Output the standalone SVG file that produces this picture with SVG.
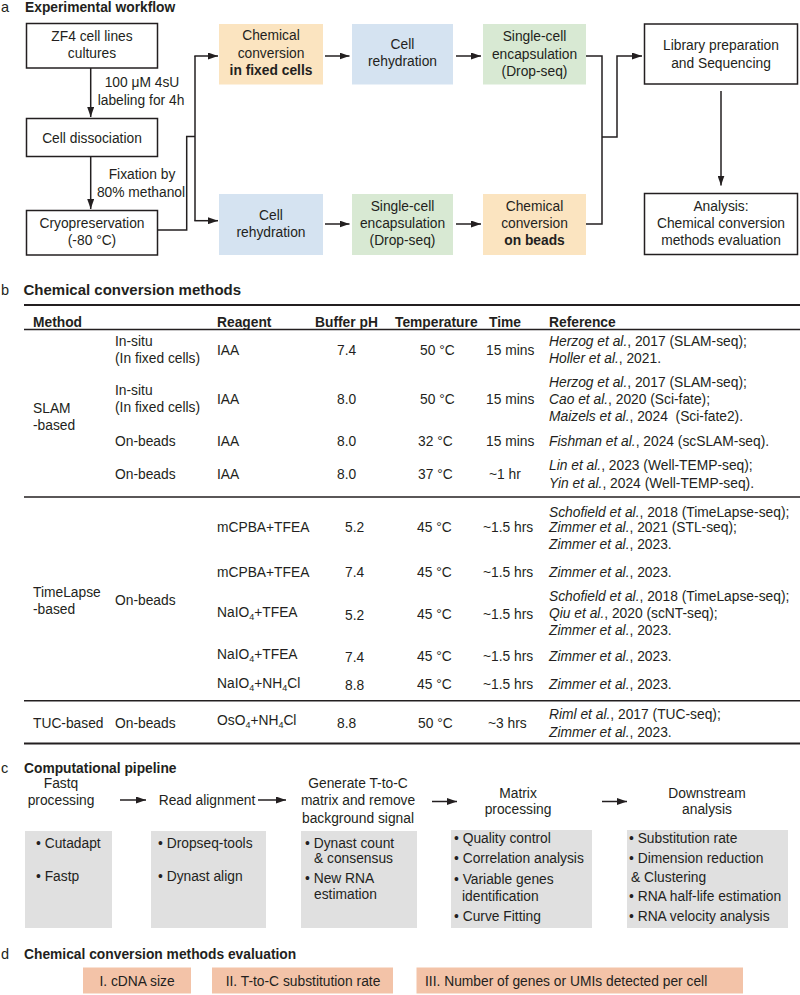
<svg xmlns="http://www.w3.org/2000/svg" width="800" height="995" viewBox="0 0 800 995">
<defs>
<style>
text{font-family:'Liberation Sans',Arial,sans-serif;font-size:13.8px;fill:#231f20}
.b{font-weight:bold}
.i{font-style:italic}
.m{text-anchor:middle}
.h{font-size:15px;font-weight:bold}
.lt{font-size:14.5px}
.box{fill:#fff;stroke:#231f20;stroke-width:1.5}
.or{fill:#fbe4c0}
.bl{fill:#d5e3f1}
.gr{fill:#d8e9d3}
.gy{fill:#e0e0e0}
.sa{fill:#f3c3a8}
.ln{stroke:#231f20;stroke-width:1.5;fill:none}
.ar{stroke:#231f20;stroke-width:1.5;fill:none;marker-end:url(#ah)}
.rule{stroke:#231f20;fill:none}
.sub{font-size:9px}
</style>
<marker id="ah" markerUnits="userSpaceOnUse" markerWidth="10" markerHeight="7" refX="10" refY="3.5" orient="auto">
<path d="M0,0 L10,3.5 L0,7 z" fill="#231f20"/>
</marker>
</defs>
<rect width="800" height="995" fill="#fff"/>

<!-- Panel a -->
<g id="panel-a-title">
<text x="1" y="12" class="lt">a</text>
<text x="25" y="12" class="b">Experimental workflow</text>
</g>
<g id="n-zf4">
<rect class="box" x="26.5" y="23.5" width="131" height="44.5"/>
<text x="92" y="41" class="m">ZF4 cell lines</text>
<text x="92" y="58" class="m">cultures</text>
</g>
<g id="n-dissociation">
<rect class="box" x="26.5" y="118.5" width="131" height="38"/>
<text x="92" y="143" class="m">Cell dissociation</text>
</g>
<g id="n-cryo">
<rect class="box" x="26.5" y="210.5" width="131" height="44.5"/>
<text x="92" y="228" class="m">Cryopreservation</text>
<text x="92" y="245" class="m">(-80 °C)</text>
</g>
<g id="lbl-labeling">
<text x="142" y="87" class="m">100 μM 4sU</text>
<text x="141" y="104.5" class="m">labeling for 4h</text>
</g>
<g id="lbl-fixation">
<text x="142" y="179" class="m">Fixation by</text>
<text x="141" y="197" class="m">80% methanol</text>
</g>
<g id="n-conv-fixed">
<rect class="or" x="219" y="24" width="104" height="60.5"/>
<text x="271" y="40" class="m">Chemical</text>
<text x="271" y="58" class="m">conversion</text>
<text x="271" y="75" class="m b">in fixed cells</text>
</g>
<g id="n-rehyd-1">
<rect class="bl" x="352" y="24" width="101" height="60.5"/>
<text x="402.5" y="48.5" class="m">Cell</text>
<text x="402.5" y="66" class="m">rehydration</text>
</g>
<g id="n-encap-1">
<rect class="gr" x="483" y="24" width="103" height="60.5"/>
<text x="534.5" y="41" class="m">Single-cell</text>
<text x="534.5" y="58.5" class="m">encapsulation</text>
<text x="534.5" y="75.5" class="m">(Drop-seq)</text>
</g>
<g id="n-rehyd-2">
<rect class="bl" x="219" y="194" width="104" height="61"/>
<text x="271" y="220" class="m">Cell</text>
<text x="271" y="237" class="m">rehydration</text>
</g>
<g id="n-encap-2">
<rect class="gr" x="352" y="194" width="101" height="61"/>
<text x="402.5" y="211" class="m">Single-cell</text>
<text x="402.5" y="228" class="m">encapsulation</text>
<text x="402.5" y="245" class="m">(Drop-seq)</text>
</g>
<g id="n-conv-beads">
<rect class="or" x="483" y="194" width="103" height="61"/>
<text x="534.5" y="211" class="m">Chemical</text>
<text x="534.5" y="228" class="m">conversion</text>
<text x="534.5" y="245" class="m b">on beads</text>
</g>
<g id="n-library">
<rect class="box" x="644.5" y="24" width="153" height="60"/>
<text x="721" y="50" class="m">Library preparation</text>
<text x="721" y="67.5" class="m">and Sequencing</text>
</g>
<g id="n-analysis">
<rect class="box" x="644.5" y="193.5" width="153" height="61"/>
<text x="721" y="211" class="m">Analysis:</text>
<text x="721" y="228" class="m">Chemical conversion</text>
<text x="721" y="245" class="m">methods evaluation</text>
</g>

<g id="connectors-a">
<path class="ar" d="M90.7,68 V117"/>
<path class="ar" d="M90.7,157 V209"/>
<path class="ln" d="M157.5,230 H186.7 V136.5 H195"/>
<path class="ln" d="M195,56 V220.7"/>
<path class="ar" d="M194.3,56 H218"/>
<path class="ar" d="M194.3,220.7 H218"/>
<path class="ar" d="M325,56 H349.5"/>
<path class="ar" d="M456,56 H481"/>
<path class="ar" d="M325,224 H349.5"/>
<path class="ar" d="M456,224 H481"/>
<path class="ln" d="M586,56 H602 V224 H586"/>
<path class="ar" d="M602,137 H617 V56 H642"/>
<path class="ar" d="M721,91 V185.5"/>
</g>

<!-- Panel b -->
<g id="panel-b-title">
<text x="1" y="295" class="lt">b</text>
<text x="23.5" y="295" class="h">Chemical conversion methods</text>
</g>
<g id="table-rules">
<line class="rule" x1="24" y1="305" x2="800" y2="305" stroke-width="2"/>
<line class="rule" x1="24" y1="329.5" x2="800" y2="329.5" stroke-width="1.5"/>
<line class="rule" x1="24" y1="497" x2="800" y2="497" stroke-width="1.5"/>
<line class="rule" x1="24" y1="700.7" x2="800" y2="700.7" stroke-width="1.5"/>
<line class="rule" x1="24" y1="743.5" x2="800" y2="743.5" stroke-width="2"/>
</g>
<g id="table-header">
<text x="33" y="326.5" class="b">Method</text>
<text x="217" y="326.5" class="b">Reagent</text>
<text x="315" y="326.5" class="b">Buffer pH</text>
<text x="395" y="326.5" class="b">Temperature</text>
<text x="489" y="326.5" class="b">Time</text>
<text x="549" y="326.5" class="b">Reference</text>
</g>
<g id="table-slam">
<text x="33" y="413">SLAM</text>
<text x="33" y="430">-based</text>
<text x="115" y="346">In-situ</text>
<text x="115" y="363">(In fixed cells)</text>
<text x="217" y="355">IAA</text>
<text x="337" y="355">7.4</text>
<text x="420" y="355">50 °C</text>
<text x="486" y="355">15 mins</text>
<text x="549" y="346"><tspan class="i">Herzog et al.</tspan>, 2017 (SLAM-seq);</text>
<text x="549" y="363"><tspan class="i">Holler et al.</tspan>, 2021.</text>
<text x="115" y="395">In-situ</text>
<text x="115" y="412">(In fixed cells)</text>
<text x="217" y="403.5">IAA</text>
<text x="337" y="403.5">8.0</text>
<text x="420" y="403.5">50 °C</text>
<text x="486" y="403.5">15 mins</text>
<text x="549" y="387"><tspan class="i">Herzog et al.</tspan>, 2017 (SLAM-seq);</text>
<text x="549" y="403.5"><tspan class="i">Cao et al.</tspan>, 2020 (Sci-fate);</text>
<text x="549" y="421"><tspan class="i">Maizels et al.</tspan>, 2024&#160; (Sci-fate2).</text>
<text x="115" y="446">On-beads</text>
<text x="217" y="446">IAA</text>
<text x="337" y="446">8.0</text>
<text x="418" y="446">32 °C</text>
<text x="486" y="446">15 mins</text>
<text x="549" y="446"><tspan class="i">Fishman et al.</tspan>, 2024 (scSLAM-seq).</text>
<text x="115" y="479">On-beads</text>
<text x="217" y="479">IAA</text>
<text x="337" y="479">8.0</text>
<text x="418" y="479">37 °C</text>
<text x="489" y="479">~1 hr</text>
<text x="549" y="470"><tspan class="i">Lin et al.</tspan>, 2023 (Well-TEMP-seq);</text>
<text x="549" y="487.5"><tspan class="i">Yin et al.</tspan>, 2024 (Well-TEMP-seq).</text>
</g>
<g id="table-timelapse">
<text x="33" y="597">TimeLapse</text>
<text x="33" y="613.5">-based</text>
<text x="115" y="605">On-beads</text>
<text x="217" y="532">mCPBA+TFEA</text>
<text x="345" y="532">5.2</text>
<text x="417" y="532">45 °C</text>
<text x="483" y="532">~1.5 hrs</text>
<text x="549" y="517"><tspan class="i">Schofield et al.</tspan>, 2018 (TimeLapse-seq);</text>
<text x="549" y="532"><tspan class="i">Zimmer et al.</tspan>, 2021 (STL-seq);</text>
<text x="549" y="548.5"><tspan class="i">Zimmer et al.</tspan>, 2023.</text>
<text x="217" y="577">mCPBA+TFEA</text>
<text x="345" y="577">7.4</text>
<text x="417" y="577">45 °C</text>
<text x="483" y="577">~1.5 hrs</text>
<text x="549" y="577"><tspan class="i">Zimmer et al.</tspan>, 2023.</text>
<text x="217" y="617">NaIO<tspan class="sub" dy="3">4</tspan><tspan dy="-3">+TFEA</tspan></text>
<text x="345" y="620">5.2</text>
<text x="417" y="618.5">45 °C</text>
<text x="483" y="618.5">~1.5 hrs</text>
<text x="549" y="601"><tspan class="i">Schofield et al.</tspan>, 2018 (TimeLapse-seq);</text>
<text x="549" y="618"><tspan class="i">Qiu et al.</tspan>, 2020 (scNT-seq);</text>
<text x="549" y="635"><tspan class="i">Zimmer et al.</tspan>, 2023.</text>
<text x="217" y="659">NaIO<tspan class="sub" dy="3">4</tspan><tspan dy="-3">+TFEA</tspan></text>
<text x="345" y="662">7.4</text>
<text x="417" y="661">45 °C</text>
<text x="483" y="661">~1.5 hrs</text>
<text x="549" y="661"><tspan class="i">Zimmer et al.</tspan>, 2023.</text>
<text x="217" y="688">NaIO<tspan class="sub" dy="3">4</tspan><tspan dy="-3">+NH</tspan><tspan class="sub" dy="3">4</tspan><tspan dy="-3">Cl</tspan></text>
<text x="345" y="690">8.8</text>
<text x="417" y="689">45 °C</text>
<text x="483" y="689">~1.5 hrs</text>
<text x="549" y="689"><tspan class="i">Zimmer et al.</tspan>, 2023.</text>
</g>
<g id="table-tuc">
<text x="33" y="728">TUC-based</text>
<text x="115" y="728">On-beads</text>
<text x="217" y="725">OsO<tspan class="sub" dy="3">4</tspan><tspan dy="-3">+NH</tspan><tspan class="sub" dy="3">4</tspan><tspan dy="-3">Cl</tspan></text>
<text x="337" y="728">8.8</text>
<text x="418" y="728">50 °C</text>
<text x="488" y="728">~3 hrs</text>
<text x="549" y="718.5"><tspan class="i">Riml et al.</tspan>, 2017 (TUC-seq);</text>
<text x="549" y="737"><tspan class="i">Zimmer et al.</tspan>, 2023.</text>
</g>

<!-- Panel c -->
<g id="panel-c-title">
<text x="1" y="773" class="lt">c</text>
<text x="24" y="773" class="b">Computational pipeline</text>
</g>
<g id="n-fastq">
<text x="61" y="788" class="m">Fastq</text>
<text x="61" y="805" class="m">processing</text>
<rect class="gy" x="25" y="831" width="87" height="97"/>
<text x="36" y="848">• Cutadapt</text>
<text x="36" y="881">• Fastp</text>
</g>
<g id="n-align">
<text x="207" y="805" class="m">Read alignment</text>
<rect class="gy" x="151" y="831" width="115" height="97"/>
<text x="158" y="848">• Dropseq-tools</text>
<text x="158" y="881">• Dynast align</text>
</g>
<g id="n-matrix-gen">
<text x="358" y="788" class="m">Generate T-to-C</text>
<text x="358" y="805" class="m">matrix and remove</text>
<text x="358" y="822.5" class="m">background signal</text>
<rect class="gy" x="301" y="831" width="116" height="97"/>
<text x="305" y="848">• Dynast count</text>
<text x="314" y="863">&amp; consensus</text>
<text x="305" y="883">• New RNA</text>
<text x="314" y="899">estimation</text>
</g>
<g id="n-matrix-proc">
<text x="518" y="798" class="m">Matrix</text>
<text x="518" y="814" class="m">processing</text>
<rect class="gy" x="451" y="830" width="141" height="98"/>
<text x="454" y="843">• Quality control</text>
<text x="454" y="863">• Correlation analysis</text>
<text x="454" y="884">• Variable genes</text>
<text x="462" y="901">identification</text>
<text x="454" y="921">• Curve Fitting</text>
</g>
<g id="n-downstream">
<text x="707" y="798" class="m">Downstream</text>
<text x="707" y="814" class="m">analysis</text>
<rect class="gy" x="627" y="830" width="161" height="98"/>
<text x="629" y="843">• Substitution rate</text>
<text x="629" y="863">• Dimension reduction</text>
<text x="631" y="882">&amp; Clustering</text>
<text x="629" y="901">• RNA half-life estimation</text>
<text x="629" y="921">• RNA velocity analysis</text>
</g>
<g id="connectors-c">
<path class="ar" d="M120,800 H146"/>
<path class="ar" d="M258,800 H286"/>
<path class="ar" d="M432,801.5 H457"/>
<path class="ar" d="M602,801.5 H627"/>
</g>

<!-- Panel d -->
<g id="panel-d-title">
<text x="1" y="959" class="lt">d</text>
<text x="24" y="959" class="b">Chemical conversion methods evaluation</text>
</g>
<g id="n-eval-1">
<rect class="sa" x="83" y="967.5" width="108" height="26"/>
<text x="137" y="985.5" class="m">I. cDNA size</text>
</g>
<g id="n-eval-2">
<rect class="sa" x="212" y="967.5" width="181" height="26"/>
<text x="303" y="985.5" class="m">II. T-to-C substitution rate</text>
</g>
<g id="n-eval-3">
<rect class="sa" x="416.5" y="967.5" width="326.5" height="26"/>
<text x="425" y="985.5">III. Number of genes or UMIs detected per cell</text>
</g>
</svg>
